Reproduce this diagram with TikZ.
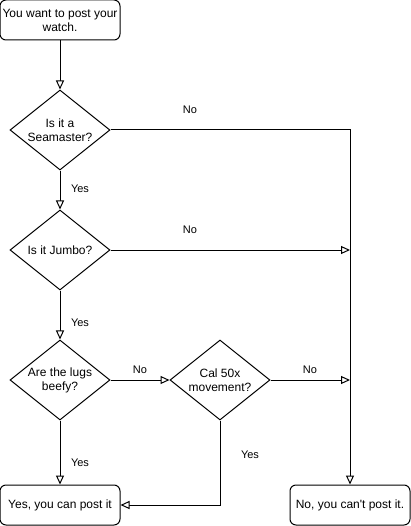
\documentclass[tikz,border=0pt]{standalone}
\usepackage{fontspec}
\setmainfont{Liberation Sans}
\newfontfamily\arialf{Liberation Sans}
\usetikzlibrary{shapes.geometric,arrows.meta}
\begin{document}
\begin{tikzpicture}[x=1pt,y=-1pt,line width=1pt,
  termbox/.style={draw,rounded corners=6pt,minimum width=120pt,minimum height=40pt,inner sep=0pt,align=center,font=\arialf\fontsize{12pt}{14pt}\selectfont},
  dia/.style={draw,diamond,minimum width=100pt,minimum height=80pt,inner sep=0pt},
  txt/.style={align=center,inner sep=0pt,font=\arialf\fontsize{12pt}{14pt}\selectfont},
  lbl/.style={inner sep=0pt,font=\arialf\fontsize{11pt}{13pt}\selectfont},
  arr/.style={-{Triangle[open,length=9pt,width=8pt,fill=white]}}]
\useasboundingbox (0,0) rectangle (411,526);
\node[termbox] (start) at (60,20) {You want to post your\\watch.};
\node[dia] (d1) at (60,130) {};
\node[txt] (t1) at (d1) {Is it a\\Seamaster?};
\node[dia] (d2) at (60,250) {};
\node[txt] (t2) at (d2) {Is it Jumbo?};
\node[dia] (d3) at (60,380) {};
\node[txt] (t3) at (d3) {Are the lugs\\beefy?};
\node[dia] (d4) at (220,380) {};
\node[txt] (t4) at (d4) {Cal 50x\\movement?};
\node[termbox] (yes) at (60,505) {Yes, you can post it};
\node[termbox] (no) at (350,505) {No, you can't post it.};
\draw[arr] (start) -- (d1);
\draw[arr] (d1) -- (d2);
\draw[arr] (d2) -- (d3);
\draw[arr] (d3) -- (yes);
\draw[arr] (d3) -- (d4);
\draw[arr] (d1.east) -| (no.north);
\draw[arr] (d2.east) -- (d2.east -| no.north);
\draw[arr] (d4.east) -- (d4.east -| no.north);
\draw[arr] (d4.south) |- (yes.east);
\node[lbl] (l1) at (190,110) {No};
\node[lbl] (l2) at (190,230) {No};
\node[lbl] (l3) at (80,189) {Yes};
\node[lbl] (l4) at (80,323) {Yes};
\node[lbl] (l5) at (80,463) {Yes};
\node[lbl] (l6) at (140,370) {No};
\node[lbl] (l7) at (310,370) {No};
\node[lbl] (l8) at (250,455) {Yes};
\end{tikzpicture}
\end{document}
